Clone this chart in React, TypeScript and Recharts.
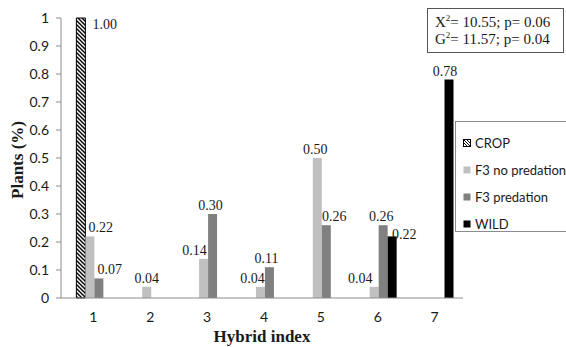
import React from 'react';
import { BarChart, Bar, XAxis, YAxis, LabelList, Label } from 'recharts';

// Hybrid index categories and share of plants per group
const hybridIndex = ['1', '2', '3', '4', '5', '6', '7'];
const crop = [1.0, null, null, null, null, null, null];
const f3NoPredation = [0.22, 0.04, 0.14, 0.04, 0.5, 0.04, null];
const f3Predation = [0.07, null, 0.3, 0.11, 0.26, 0.26, null];
const wild = [null, null, null, null, null, 0.22, 0.78];
const yTicks = [0, 0.1, 0.2, 0.3, 0.4, 0.5, 0.6, 0.7, 0.8, 0.9, 1];
const statLines = [
  { sym: 'X', stat: '10.55', p: '0.06' },
  { sym: 'G', stat: '11.57', p: '0.04' },
];

const data = hybridIndex.map((h, i) => ({
  h,
  crop: crop[i],
  noPred: f3NoPredation[i],
  pred: f3Predation[i],
  wild: wild[i],
}));

const SERIF = '"Liberation Serif", "DejaVu Serif", serif';
const SANS = 'Lato, "Open Sans", sans-serif';

const SERIES = [
  { key: 'crop', name: 'CROP', fill: 'url(#cropHatch)', stroke: '#000' },
  { key: 'noPred', name: 'F3 no predation', fill: '#c0c0c0', stroke: 'none' },
  { key: 'pred', name: 'F3 predation', fill: '#808080', stroke: 'none' },
  { key: 'wild', name: 'WILD', fill: '#000000', stroke: 'none' },
];

// hand placed label nudges (dx, dy) per hybrid index, like in the original spreadsheet
const LABEL_NUDGE: Record<string, Record<string, [number, number]>> = {
  crop: { '1': [24, 15] },
  noPred: { '1': [11, 0], '3': [-9, 0], '4': [-8, 0], '5': [-2, 0], '6': [-14, 0] },
  pred: { '1': [11, 0], '3': [-2, 0], '4': [-3, 0], '5': [8, 0], '6': [-2, 0] },
  wild: { '6': [12, 7], '7': [-4, 0] },
};

const makeLabel = (key: string) => (props: any) => {
  const { x, y, width, value, index } = props;
  if (value == null) return null;
  const nonNull = data.filter((d: any) => d[key] != null);
  const cat = props.payload?.h ?? nonNull[index]?.h;
  const [dx, dy] = LABEL_NUDGE[key][cat] || [0, 0];
  return (
    <text
      x={Number(x) + Number(width) / 2 + dx}
      y={Number(y) - 4 + dy}
      textAnchor="middle"
      fontFamily={SERIF}
      fontSize={14}
      fill="#1a1a1a"
    >
      {Number(value).toFixed(2)}
    </text>
  );
};

const YLabel = (props: any) => {
  const { viewBox } = props;
  const cy = viewBox.y + viewBox.height / 2 + 2;
  return (
    <text
      x={17}
      y={cy}
      transform={`rotate(-90, 17, ${cy})`}
      textAnchor="middle"
      dominantBaseline="central"
      fontFamily={SERIF}
      fontWeight="bold"
      fontSize={17}
      fill="#1a1a1a"
    >
      Plants (%)
    </text>
  );
};

const Swatch = ({ s }: { s: (typeof SERIES)[number] }) => (
  <svg width={8} height={8} style={{ marginRight: 4 }}>
    <defs>
      <pattern id="swHatch" patternUnits="userSpaceOnUse" width={3} height={3}>
        <rect width={3} height={3} fill="#fff" />
        <path d="M-1,-1 L4,4" stroke="#000" strokeWidth={1} />
      </pattern>
    </defs>
    <rect
      x={0.5}
      y={0.5}
      width={7}
      height={7}
      fill={s.key === 'crop' ? 'url(#swHatch)' : s.fill}
      stroke={s.key === 'crop' ? '#000' : 'none'}
    />
  </svg>
);

export default function App() {
  return (
    <div style={{ position: 'absolute', left: 0, top: 0, width: 566, height: 347, background: '#fff' }}>
      <BarChart
        width={566}
        height={347}
        data={data}
        margin={{ top: 18, right: 103, left: 0, bottom: 0 }}
        barCategoryGap="20%"
        barGap={0}
      >
        <defs>
          <pattern id="cropHatch" patternUnits="userSpaceOnUse" width={4} height={4}>
            <rect width={4} height={4} fill="#fff" />
            <path d="M-1,-1 L5,5 M-1,3 L1,5 M3,-1 L5,1" stroke="#000" strokeWidth={1.4} />
          </pattern>
        </defs>
        <XAxis
          dataKey="h"
          stroke="#8c8c8c"
          tickLine={false}
          height={49}
          padding={{ left: 4, right: 0 }}
          tick={{ fill: '#1a1a1a', fontFamily: SANS, fontSize: 14 }}
          tickMargin={8}
        >
          <Label
            value="Hybrid index"
            position="insideBottom"
            offset={5}
            style={{ fontFamily: SERIF, fontWeight: 'bold', fontSize: 17, fill: '#1a1a1a' }}
          />
        </XAxis>
        <YAxis
          width={61}
          domain={[0, 1]}
          ticks={yTicks}
          interval={0}
          stroke="#8c8c8c"
          tickSize={5}
          tickMargin={7}
          tickFormatter={(v) => String(v)}
          tick={{ fill: '#1a1a1a', fontFamily: SANS, fontSize: 14 }}
          label={<YLabel />}
        />
        {SERIES.map((s) => (
          <Bar
            key={s.key}
            dataKey={s.key}
            name={s.name}
            fill={s.fill}
            stroke={s.stroke}
            strokeWidth={s.key === 'crop' ? 1 : 0}
            isAnimationActive={false}
          >
            <LabelList dataKey={s.key} content={makeLabel(s.key)} />
          </Bar>
        ))}
      </BarChart>

      <div
        style={{
          position: 'absolute',
          left: 427,
          top: 8,
          width: 137,
          height: 45,
          border: '1px solid #555',
          background: '#fff',
          fontFamily: SERIF,
          fontSize: 15,
          color: '#1a1a1a',
          lineHeight: '17px',
          paddingTop: 5,
          paddingLeft: 7,
          boxSizing: 'border-box',
          whiteSpace: 'nowrap',
        }}
      >
        {statLines.map((l) => (
          <div key={l.sym}>
            {l.sym}
            <sup style={{ fontSize: 9, verticalAlign: 'super', lineHeight: 0 }}>2</sup>= {l.stat}; p= {l.p}
          </div>
        ))}
      </div>

      <div
        style={{
          position: 'absolute',
          left: 455,
          top: 121,
          width: 120,
          height: 111,
          border: '1px solid #8c8c8c',
          background: '#fff',
          fontFamily: SANS,
          fontSize: 13,
          color: '#1a1a1a',
          boxSizing: 'border-box',
          paddingTop: 7,
          paddingLeft: 7,
        }}
      >
        {SERIES.map((s) => (
          <div key={s.key} style={{ display: 'flex', alignItems: 'center', height: 27, whiteSpace: 'nowrap' }}>
            <Swatch s={s} />
            {s.name}
          </div>
        ))}
      </div>
    </div>
  );
}
